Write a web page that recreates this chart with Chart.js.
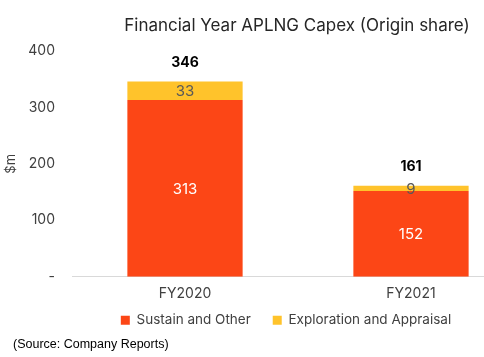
<!DOCTYPE html>
<html>
<head>
<meta charset="utf-8">
<script src="https://cdn.jsdelivr.net/npm/chart.js@4.4.1/dist/chart.umd.min.js"></script>
<style>
  html, body { margin: 0; padding: 0; background: #fff; }
  #wrap { position: relative; width: 484px; height: 357px; overflow: hidden; background: #fff; }
  #box { position: absolute; left: 0; top: 0; width: 594px; height: 357px; }
  #source { position: absolute; left: 13px; top: 337px; font-family: "Liberation Sans", Arial, sans-serif; font-size: 12.5px; color: #000; white-space: nowrap; }
</style>
</head>
<body>
<div id="wrap">
  <div id="box"><canvas id="c" width="594" height="357"></canvas></div>
  <div id="source">(Source: Company Reports)</div>
</div>
<script>
const categories = ['FY2020', 'FY2021'];
const sustainOther = [313, 152];
const explorationAppraisal = [33, 9];
const totals = [346, 161];
const yTickValues = [0, 100, 200, 300, 400];

const FONT = 'Inter, "Open Sans", sans-serif';

const labelPlugin = {
  id: 'valueLabels',
  afterLayout(chart) {
    // the original chart was cropped on the right: recentre title and legend
    const t = chart.titleBlock;
    if (t) { t.left += 35; t.right += 35; }
    const l = chart.legend;
    if (l) { l.left += 24; l.right += 24; l.top -= 20; l.bottom -= 20; }
  },
  afterDatasetsDraw(chart) {
    const ctx = chart.ctx;
    ctx.save();
    ctx.textAlign = 'center';
    ctx.textBaseline = 'middle';
    const colors = ['#ffffff', '#595959'];
    chart.data.datasets.forEach((ds, di) => {
      const meta = chart.getDatasetMeta(di);
      meta.data.forEach((bar, i) => {
        const top = Math.min(bar.y, bar.base);
        const bottom = Math.max(bar.y, bar.base);
        ctx.fillStyle = colors[di];
        ctx.font = '15px ' + FONT;
        ctx.fillText(String(ds.data[i]), bar.x, (top + bottom) / 2 + 1);
      });
    });
    const yScale = chart.scales.y;
    const xScale = chart.scales.x;
    ctx.fillStyle = '#000000';
    ctx.font = 'bold 14px ' + FONT;
    totals.forEach((t, i) => {
      ctx.fillText(String(t), xScale.getPixelForValue(i), yScale.getPixelForValue(t) - 19);
    });
    ctx.restore();
  }
};

new Chart(document.getElementById('c'), {
  type: 'bar',
  data: {
    labels: categories,
    datasets: [
      { label: 'Sustain and Other', data: sustainOther, backgroundColor: '#FC4616', borderWidth: 0, categoryPercentage: 1, barPercentage: 0.51 },
      { label: 'Exploration and Appraisal', data: explorationAppraisal, backgroundColor: '#FFC32B', borderWidth: 0, categoryPercentage: 1, barPercentage: 0.51 }
    ]
  },
  options: {
    responsive: false,
    animation: false,
    layout: { padding: { left: 0, right: 70, top: 0, bottom: 0 } },
    plugins: {
      title: {
        display: true,
        text: 'Financial Year APLNG Capex (Origin share)',
        color: '#262626',
        font: { family: FONT, size: 17, weight: 'normal' },
        padding: { top: 16, bottom: 14.6 }
      },
      legend: {
        position: 'bottom',
        labels: {
          boxWidth: 9, boxHeight: 9, padding: 22,
          color: '#404040',
          font: { family: FONT, size: 13.5 }
        }
      },
      tooltip: { enabled: false }
    },
    scales: {
      x: {
        stacked: true,
        grid: { display: false, drawTicks: false },
        border: { color: '#d9d9d9', width: 1 },
        ticks: { color: '#404040', font: { family: FONT, size: 14 }, padding: 9 }
      },
      y: {
        stacked: true,
        min: 0, max: 400,
        grid: { display: false, drawTicks: false },
        border: { display: false },
        afterBuildTicks(axis) { axis.ticks = yTickValues.map(v => ({ value: v })); },
        afterFit(axis) { axis.width = 72; },
        ticks: {
          color: '#404040',
          font: { family: FONT, size: 14 },
          padding: 17,
          callback: v => (v === 0 ? '-' : String(v))
        },
        title: { display: true, text: '$m', color: '#404040', font: { family: FONT, size: 13 }, padding: { top: 3, bottom: 8 } }
      }
    }
  },
  plugins: [labelPlugin]
});
</script>
</body>
</html>
